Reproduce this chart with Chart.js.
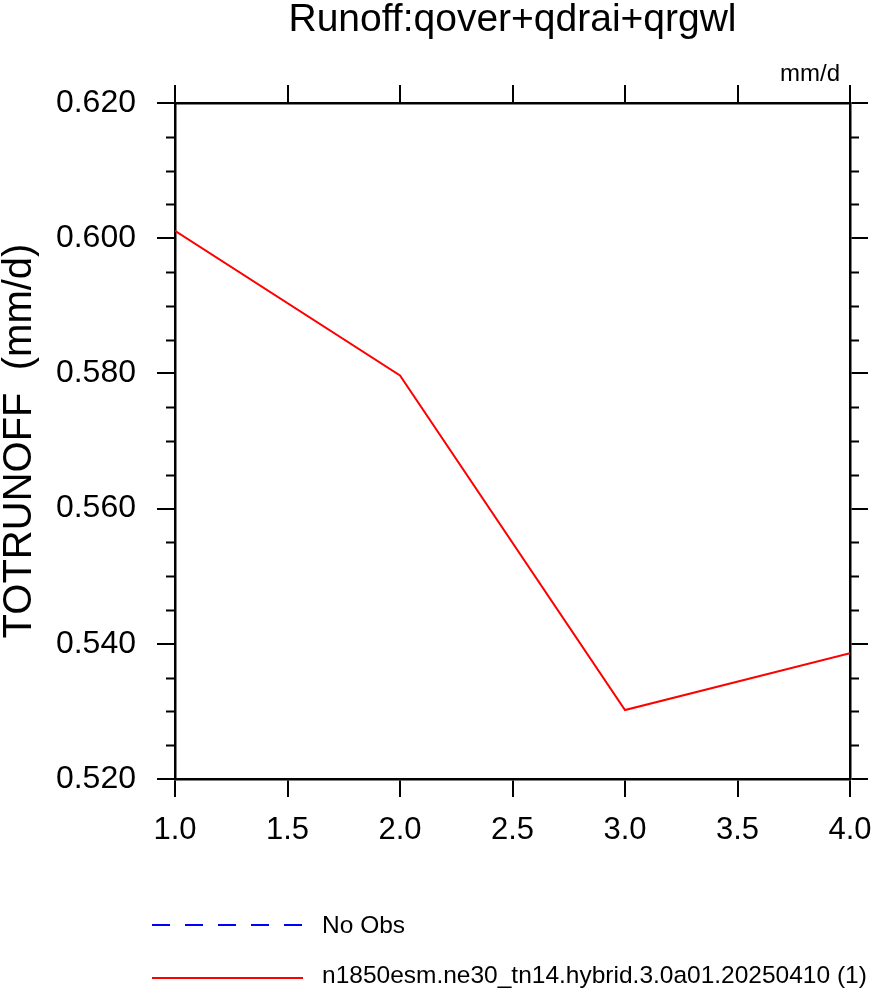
<!DOCTYPE html>
<html>
<head>
<meta charset="utf-8">
<script src="https://cdn.jsdelivr.net/npm/chart.js@4.4.1/dist/chart.umd.min.js"></script>
<style>
  html, body { margin: 0; padding: 0; background: #fff; }
  canvas { display: block; }
</style>
</head>
<body>
<canvas id="runoffChart" width="871" height="993"></canvas>
<script>
// values
var xValues = [1, 2, 3, 4];
var runoffValues = [0.6011, 0.5797, 0.5302, 0.5386];
var obsValues = [];
var seriesNames = ["No Obs", "n1850esm.ne30_tn14.hybrid.3.0a01.20250410 (1)"];
var xTicks = [1.0, 1.5, 2.0, 2.5, 3.0, 3.5, 4.0];
var yTicks = [0.52, 0.54, 0.56, 0.58, 0.60, 0.62];
var chartTitle = "Runoff:qover+qdrai+qrgwl";
var unitsLabel = "mm/d";
var yTitle = "TOTRUNOFF  (mm/d)";

var FONT = "'Liberation Sans', Arial, Helvetica, sans-serif";

function toPoints(xs, ys) {
    return ys.map(function (v, i) { return { x: xs[i], y: v }; });
}

// minor ticks, title, units and the legend
var decorations = {
    id: "decorations",
    afterDraw: function (chart) {
        var ctx = chart.ctx;
        var area = chart.chartArea;
        var y = chart.scales.y;
        ctx.save();

        // minor ticks on left and right
        ctx.strokeStyle = "#000";
        ctx.lineWidth = 2;
        for (var i = 0; i <= 20; i++) {
            if (i % 4 === 0) continue;
            var py = Math.round(y.getPixelForValue(0.52 + i * 0.005)) + 0.5;
            ctx.beginPath();
            ctx.moveTo(area.left - 9, py);
            ctx.lineTo(area.left, py);
            ctx.moveTo(area.right, py);
            ctx.lineTo(area.right + 9, py);
            ctx.stroke();
        }

        ctx.fillStyle = "#000";
        ctx.font = "39px " + FONT;
        ctx.textAlign = "center";
        ctx.textBaseline = "alphabetic";
        ctx.fillText(chartTitle, (area.left + area.right) / 2, 31);

        ctx.font = "24px " + FONT;
        ctx.textAlign = "right";
        ctx.fillText(unitsLabel, 840, 81);

        // legend
        var lineRows = [925, 978];
        var textRows = [926, 976];
        chart.data.datasets.forEach(function (ds, k) {
            ctx.strokeStyle = ds.borderColor;
            ctx.lineWidth = ds.borderWidth;
            ctx.setLineDash(ds.borderDash || []);
            ctx.beginPath();
            ctx.moveTo(152, lineRows[k]);
            ctx.lineTo(303, lineRows[k]);
            ctx.stroke();
            ctx.setLineDash([]);
            ctx.fillStyle = "#000";
            ctx.font = "24.5px " + FONT;
            ctx.textAlign = "left";
            ctx.textBaseline = "middle";
            ctx.fillText(ds.label, 322, textRows[k]);
        });
        ctx.restore();
    }
};

var tickGrid = {
    drawOnChartArea: false,
    drawTicks: true,
    tickLength: 18,
    color: "#000",
    lineWidth: 2
};
var axisBorder = { display: true, color: "#000", width: 2.5 };

function noPadding(scale) {
    scale.paddingLeft = 0;
    scale.paddingRight = 0;
    scale.paddingTop = 0;
    scale.paddingBottom = 0;
}

new Chart(document.getElementById("runoffChart").getContext("2d"), {
    type: "line",
    data: {
        datasets: [
            {
                label: seriesNames[0],
                data: toPoints(xValues, obsValues),
                borderColor: "#0000ff",
                borderWidth: 2,
                borderDash: [18, 15],
                pointRadius: 0
            },
            {
                label: seriesNames[1],
                data: toPoints(xValues, runoffValues),
                borderColor: "#ff0000",
                borderWidth: 2,
                pointRadius: 0,
                tension: 0
            }
        ]
    },
    options: {
        responsive: false,
        animation: false,
        layout: { padding: 0 },
        plugins: {
            legend: { display: false },
            tooltip: { enabled: false }
        },
        scales: {
            x: {
                type: "linear",
                position: "bottom",
                min: 1,
                max: 4,
                afterBuildTicks: function (scale) {
                    scale.ticks = xTicks.map(function (v) { return { value: v }; });
                },
                ticks: {
                    padding: 15,
                    color: "#000",
                    font: { family: FONT, size: 31 },
                    maxRotation: 0,
                    callback: function (value) { return value.toFixed(1); }
                },
                grid: tickGrid,
                border: axisBorder,
                afterFit: function (scale) { scale.height = 214; noPadding(scale); }
            },
            x2: {
                type: "linear",
                position: "top",
                min: 1,
                max: 4,
                afterBuildTicks: function (scale) {
                    scale.ticks = xTicks.map(function (v) { return { value: v }; });
                },
                ticks: { display: false },
                grid: tickGrid,
                border: axisBorder,
                afterFit: function (scale) { scale.height = 103; noPadding(scale); }
            },
            y: {
                type: "linear",
                position: "left",
                min: 0.52,
                max: 0.62,
                afterBuildTicks: function (scale) {
                    scale.ticks = yTicks.map(function (v) { return { value: v }; });
                },
                ticks: {
                    padding: 21,
                    color: "#000",
                    font: { family: FONT, size: 32 },
                    callback: function (value) { return value.toFixed(3); }
                },
                title: {
                    display: true,
                    text: yTitle,
                    color: "#000",
                    font: { family: FONT, size: 40, lineHeight: 1 },
                    padding: 0
                },
                grid: tickGrid,
                border: axisBorder,
                afterFit: function (scale) { scale.width = 175; noPadding(scale); }
            },
            y2: {
                type: "linear",
                position: "right",
                min: 0.52,
                max: 0.62,
                afterBuildTicks: function (scale) {
                    scale.ticks = yTicks.map(function (v) { return { value: v }; });
                },
                ticks: { display: false },
                grid: tickGrid,
                border: axisBorder,
                afterFit: function (scale) { scale.width = 21; noPadding(scale); }
            }
        }
    },
    plugins: [decorations]
});
</script>
</body>
</html>
